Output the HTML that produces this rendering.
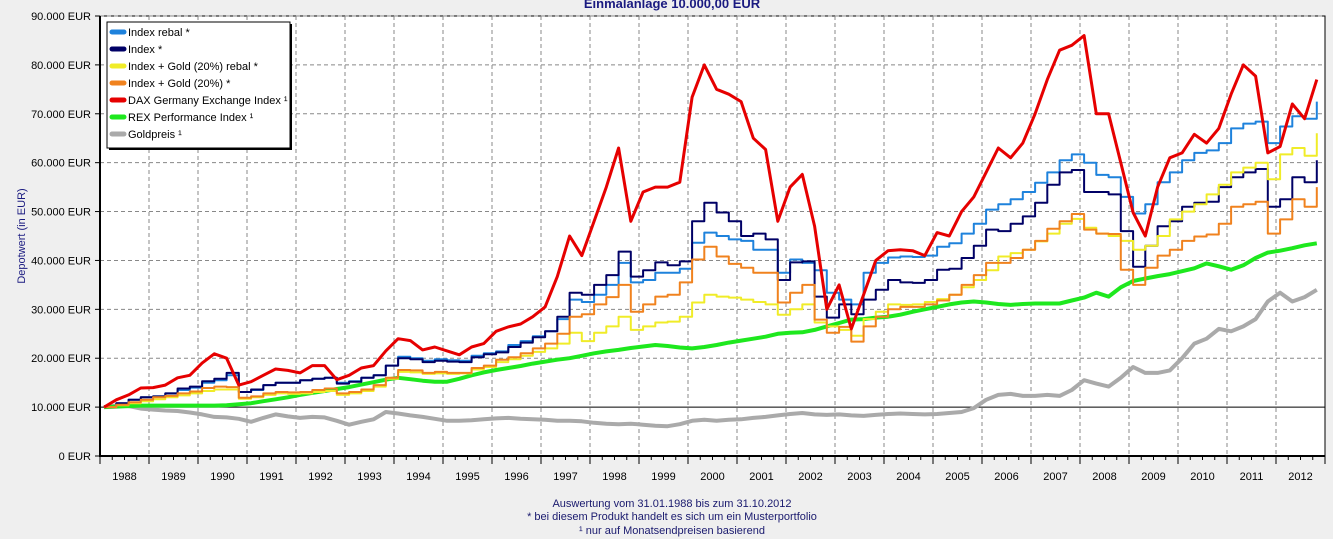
<!DOCTYPE html>
<html><head><meta charset="utf-8">
<style>
html,body{margin:0;padding:0;background:#efefef;}
body{width:1333px;height:539px;overflow:hidden;font-family:"Liberation Sans",Arial,sans-serif;}
svg{display:block;}
</style></head>
<body>
<svg id="chart" width="1333" height="539" xmlns="http://www.w3.org/2000/svg" font-family="Liberation Sans, Arial, sans-serif">
  <rect x="0" y="0" width="1333" height="539" fill="#efefef"/>
  <text x="672" y="8" text-anchor="middle" font-size="13" font-weight="bold" fill="#1a1a80">Einmalanlage 10.000,00 EUR</text>
  <rect x="100" y="16" width="1225" height="440" fill="#ffffff" stroke="#000" stroke-width="1"/>
  <g id="grid"></g>
  <g id="axes"></g>
  <g id="series"></g>
  <text transform="translate(25,236) rotate(-90)" text-anchor="middle" font-size="11" fill="#1a1a80">Depotwert (in EUR)</text>
  <g>
    <rect x="109" y="24" width="183" height="126" fill="#000"/>
    <rect x="107" y="22" width="183" height="126" fill="#fff" stroke="#000" stroke-width="1"/>
    <g id="legend-items"></g>
  </g>
  <text x="672" y="507" text-anchor="middle" font-size="11" fill="#1a1a6e">Auswertung vom 31.01.1988 bis zum 31.10.2012</text>
  <text x="672" y="520" text-anchor="middle" font-size="11" fill="#1a1a6e">* bei diesem Produkt handelt es sich um ein Musterportfolio</text>
  <text x="672" y="534" text-anchor="middle" font-size="11" fill="#1a1a6e">¹ nur auf Monatsendpreisen basierend</text>
</svg>
<script>
// time grid: quarterly, years since Jan 1988
const quarters = Array.from({length:100},(_,i)=>i*0.25);
const yearLabels = ["1988","1989","1990","1991","1992","1993","1994","1995","1996","1997","1998","1999","2000","2001","2002","2003","2004","2005","2006","2007","2008","2009","2010","2011","2012"];
const yTickValues = [0,10,20,30,40,50,60,70,80,90];
const yTickLabels = ["0 EUR","10.000 EUR","20.000 EUR","30.000 EUR","40.000 EUR","50.000 EUR","60.000 EUR","70.000 EUR","80.000 EUR","90.000 EUR"];
// values in thousand EUR
const indexRebal = [10,10.8,11.5,12,12.2,12.8,13.5,14,15,15.5,16.5,13.1,13.5,14.5,15,15,15.5,15.8,16,15,15.3,16,16.5,18.5,20.3,20,19.5,19.8,19.6,19.5,20.5,21,21.4,22.7,23.5,24.5,25.5,28,32,31.5,33,35,39.5,35.5,36,37.5,37.5,38.3,43.6,45.7,45,44.3,44,42.2,42.2,37.5,40.2,39.5,38,33.4,32,31,37.5,39.5,40.6,40.8,40.7,41,42.8,43.5,45.5,47.5,50.4,51.5,52.5,54,55.9,58,60.5,61.7,60,57.5,57,53,49.6,51.5,56,58,60.5,62,62.5,64,67,68,68.4,64,67.4,69.5,69,72.5];
const indexPlain = [10,10.8,11.5,12,12.2,12.8,13.8,14.2,15.3,15.8,17,13.1,13.6,14.5,15,15,15.5,15.8,16,14.8,15.2,16,16.5,18.5,20,19.8,19.2,19.5,19.3,19.2,20.2,20.8,21.2,22.3,23.2,24.3,25.5,28.5,33.4,33,35,37,41.8,36.7,38,39.6,39,39.8,48,51.8,49.8,48,45,45.5,44.3,36,39.6,39.8,32.6,28.3,31,29,32,34,36,35.5,35.4,36,38.1,38.3,40.5,43,46.3,46,47.5,49,51.8,55.5,58,58.5,54,54,53.5,46,38.7,43,47,48,51,51.8,52,55,57,58,58.7,51,52.5,57,56,60.5];
const goldMixRebal = [10,10.4,10.8,11.2,11.6,12,12.4,12.8,13.3,13.6,13.6,11.7,12,12.5,12.8,12.7,12.8,13.1,13.3,12.5,12.8,13.3,14.2,15.8,17.2,17.1,16.8,16.9,16.8,16.9,17.7,18.2,19.2,19.8,20.5,21.3,22,23,25.2,23.5,25.2,26.5,28.5,25.8,26.5,27.3,27.5,28.5,31.4,33,32.6,32.4,32,31.5,31,28.9,30,31,27.3,26.5,25.8,24.6,28,29.5,31,30.9,31,31.5,32.1,33,34.5,36,38,40.8,41.5,42.2,43.9,45.5,47.5,48.5,46.7,45.5,45,44,42.2,43,45,48.4,50,51.5,53.5,55.5,58,59,60,56.6,61.7,63,61.4,66];
const goldMix = [10,10.5,11,11.5,12,12.3,12.8,13.2,13.9,14.2,14.1,11.9,12.2,12.8,13.1,13,13.1,13.5,13.8,12.8,13.1,13.6,14.5,16,17.6,17.5,17,17.2,17,17,18,18.5,19.7,20.2,21,22,23,25,28.5,29,31,32.5,35,29.5,31,32.6,33,35.5,40.2,42.8,40.8,39.3,38.5,37.5,37.5,31.4,33.4,35,27.9,25.2,26.4,23.4,26.5,28.5,30,30.5,30.5,31,31.8,33,35,37,39.5,39.5,40.5,42.2,44,46.5,48,49.5,46.3,45.5,45.4,38.1,35,38.5,41,42.2,44,44.9,45.3,47.5,51,51.5,52,45.5,48.4,52.5,51,55];
const dax = [10,11.5,12.5,13.9,14,14.5,16,16.5,19,20.9,20,14.5,15.2,16.5,17.8,17.5,17,18.5,18.5,15.6,16.5,18,18.5,21.5,24,23.6,21.7,22.3,21.5,20.7,22.3,23,25.5,26.4,27,28.5,30.5,36.7,45,41,48,55,63,48,54,55,55,56,73.4,80,75,74,72.5,65,62.7,48,55,57.6,47,30,35,26,33,40,42,42.2,42,41,45.7,45,50,53,58,63,61,64,70,77,83,84,86,70,70,60,49.8,45,55,61,62,65.8,64,67,74,80,77.7,62,63.3,72,69,77];
const rex = [10,10.1,10.2,10.3,10.3,10.3,10.3,10.3,10.3,10.3,10.4,10.6,10.8,11.2,11.6,12,12.5,12.9,13.3,13.7,14.1,14.6,15.1,15.6,16,15.7,15.4,15.2,15.2,15.8,16.5,17.1,17.6,18,18.4,18.9,19.3,19.7,20,20.5,21,21.4,21.7,22.1,22.4,22.7,22.5,22.2,22,22.3,22.7,23.2,23.6,24,24.4,25,25.2,25.3,25.8,26.5,27.2,27.9,28,28.3,28.5,28.9,29.5,30,30.5,31,31.4,31.6,31.4,31.1,30.9,31.1,31.2,31.2,31.2,31.8,32.4,33.4,32.6,34.5,35.8,36.3,36.8,37.2,37.8,38.4,39.4,38.8,38.1,39,40.5,41.6,42,42.5,43.1,43.5];
const goldPrice = [10,10.3,10.2,9.7,9.5,9.3,9.2,8.9,8.5,8,7.9,7.6,7,7.8,8.5,8.1,7.8,8,7.9,7.2,6.4,7,7.5,9,8.7,8.3,8,7.6,7.2,7.2,7.3,7.5,7.7,7.8,7.6,7.5,7.4,7.2,7.2,7.1,6.8,6.6,6.5,6.6,6.4,6.2,6.1,6.5,7.2,7.4,7.2,7.4,7.5,7.8,8,8.3,8.6,8.8,8.5,8.4,8.5,8.3,8.2,8.4,8.6,8.7,8.6,8.5,8.6,8.8,9,9.8,11.5,12.5,12.7,12.3,12.3,12.5,12.3,13.5,15.5,14.8,14.2,16,18.2,17,17,17.5,20,23,24,26,25.5,26.5,28,31.6,33.4,31.6,32.5,34];
const seriesNames = ["Index rebal *","Index *","Index + Gold (20%) rebal *","Index + Gold (20%) *","DAX Germany Exchange Index ¹","REX Performance Index ¹","Goldpreis ¹"];

const NS="http://www.w3.org/2000/svg";
const X0=100, X1=1325, YB=456, YT=16, PX_YEAR=49;
const xs = t => X0 + t*PX_YEAR;
const ys = v => YB - v*(YB-YT)/90;
function mk(tag, attrs, parent){const e=document.createElementNS(NS,tag);for(const k in attrs)e.setAttribute(k,attrs[k]);parent.appendChild(e);return e;}

const grid=document.getElementById('grid'), axes=document.getElementById('axes'), ser=document.getElementById('series');
yTickValues.forEach((v,i)=>{
  const y=ys(v);
  if(v>0){
    const l=mk('line',{x1:X0,x2:X1,y1:y,y2:y,stroke:v===10?'#000':'#888','stroke-width':1,'stroke-dasharray':v===10?'none':'4,3'},grid);
    
    
  }
  const tk=mk('line',{x1:X0-5,x2:X0,y1:y,y2:y,stroke:'#000'},axes);
  
  
  const t=mk('text',{x:91,y:y+4,'text-anchor':'end','font-size':11,fill:'#000'},axes);
  t.textContent=yTickLabels[i];
  
  
});
yearLabels.forEach((lab,i)=>{
  const xe=xs(i+1);
  if(i<yearLabels.length-1){
    const g=mk('line',{x1:xe,x2:xe,y1:YT,y2:YB,stroke:'#888','stroke-dasharray':'4,3'},grid);
    
    
  }
  const mt=mk('line',{x1:xe,x2:xe,y1:YB,y2:YB+8,stroke:'#000'},axes);
  
  
  for(let q=1;q<4;q++){
    const mx=xs(i+q/4);
    const mn=mk('line',{x1:mx,x2:mx,y1:YB,y2:YB+4,stroke:'#000'},axes);
    
    
  }
  const t=mk('text',{x:xs(i+0.5),y:480,'text-anchor':'middle','font-size':11,fill:'#000'},axes);
  t.textContent=lab;
  
  
});
const ax=mk('path',{d:`M${X0} ${YT} V${YB} H${X1}`,stroke:'#000','stroke-width':2,fill:'none'},axes);


mk('line',{x1:X0,x2:X0,y1:YB,y2:YB+8,stroke:'#000'},axes);

const defs=[
 {d:goldPrice,c:'#aaaaaa',w:4,n:'series-goldpreis',step:false},
 {d:rex,c:'#1ee81e',w:4,n:'series-rex',step:false},
 {d:indexRebal,c:'#1e82dc',w:2,n:'series-index-rebal',step:true},
 {d:indexPlain,c:'#000066',w:2,n:'series-index',step:true},
 {d:goldMixRebal,c:'#f0ec28',w:2,n:'series-index-gold-rebal',step:true},
 {d:goldMix,c:'#f0821e',w:2,n:'series-index-gold',step:true},
 {d:dax,c:'#e60000',w:3,n:'series-dax',step:false}
];
defs.forEach(s=>{
  let pts=[];
  s.d.forEach((v,i)=>{
    const x=xs(quarters[i]+0.0833), y=ys(v);
    if(s.step && i>0){ pts.push(x.toFixed(1)+','+ys(s.d[i-1]).toFixed(1)); }
    pts.push(x.toFixed(1)+','+y.toFixed(1));
  });
  const p=mk('polyline',{points:pts.join(' '),fill:'none',stroke:s.c,'stroke-width':s.w,'stroke-linejoin':'round'},ser);
  
  
});
const li=document.getElementById('legend-items');
const legColors=['#1e82dc','#000066','#f0ec28','#f0821e','#e60000','#1ee81e','#aaaaaa'];
seriesNames.forEach((nm,i)=>{
  const y=32+i*17;
  const g=mk('g',{},li);
  
  
  mk('line',{x1:112,x2:124,y1:y,y2:y,stroke:legColors[i],'stroke-width':5,'stroke-linecap':'round'},g);
  const t=mk('text',{x:128,y:y+4,'font-size':11,fill:'#000'},g);
  t.textContent=nm;
});
</script>
</body></html>
